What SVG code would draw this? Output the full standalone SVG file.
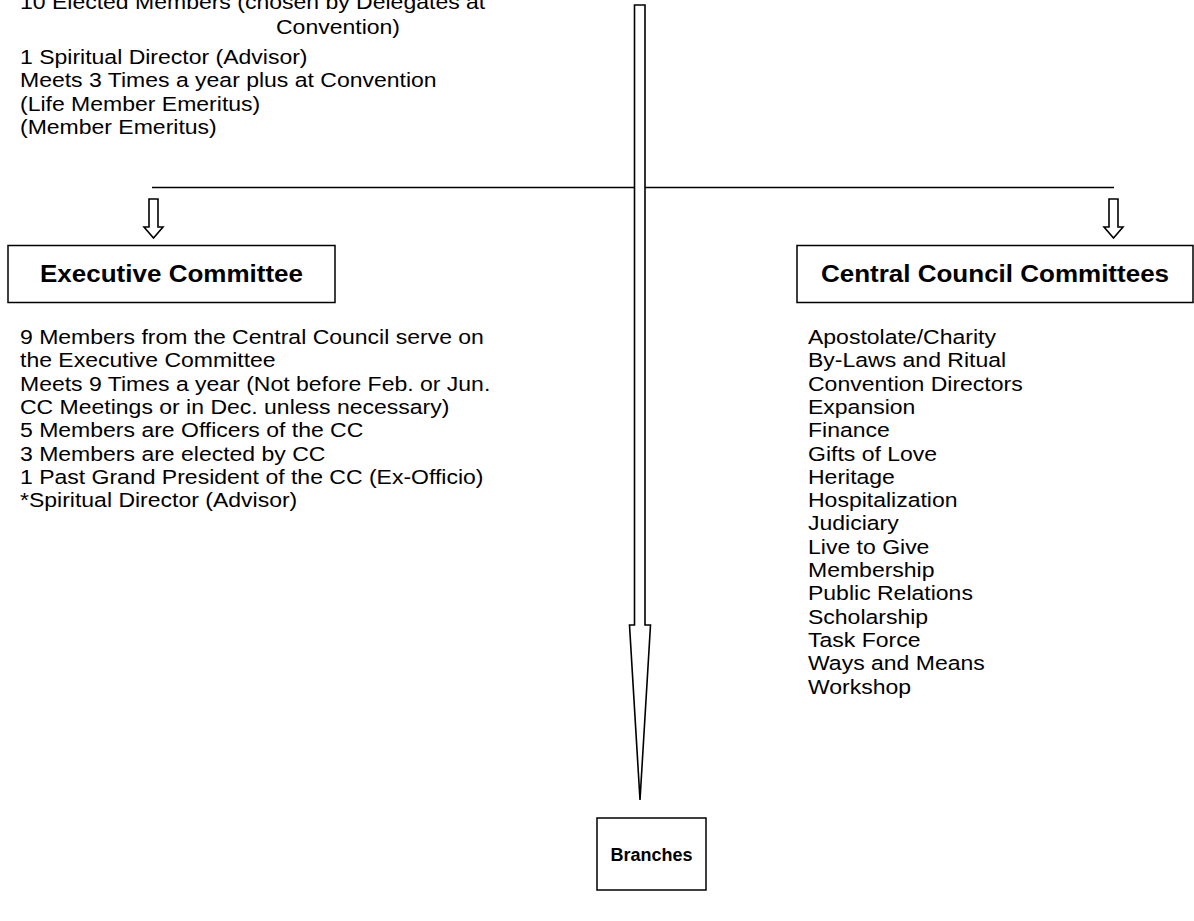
<svg xmlns="http://www.w3.org/2000/svg" width="1194" height="921" viewBox="0 0 1194 921">
<style>
text{font-family:"Liberation Sans",Arial,sans-serif;font-size:23px;fill:#000}
.t{font-weight:bold;font-size:26px}
.tb{font-weight:bold;font-size:18px}
.box{fill:#fff;stroke:#000;stroke-width:1.5}
.arr{fill:#fff;stroke:#000;stroke-width:1.6;stroke-linejoin:miter}
</style>
<rect width="1194" height="921" fill="#fff"/>
<g id="council-text">
<text transform="matrix(1 0 0 0.89 20 9)">10 Elected Members (chosen by Delegates at</text>
<text transform="matrix(1 0 0 0.89 276 34)">Convention)</text>
<text transform="matrix(1 0 0 0.89 20 64)">1 Spiritual Director (Advisor)</text>
<text transform="matrix(1 0 0 0.89 20 87.3)">Meets 3 Times a year plus at Convention</text>
<text transform="matrix(1 0 0 0.89 20 110.6)">(Life Member Emeritus)</text>
<text transform="matrix(1 0 0 0.89 20 134)">(Member Emeritus)</text>
</g>
<g id="connectors">
<line x1="152" y1="187.5" x2="1114" y2="187.5" stroke="#000" stroke-width="1.6"/>
<path class="arr" d="M149,199 H158 V227 H163 L153.5,238 L144,227 H149 Z"/>
<path class="arr" d="M1109,199 H1118 V227 H1123 L1113.5,238 L1104,227 H1109 Z"/>
<path class="arr" d="M634.5,5 H645 V625 H650.5 L640,800 L629.5,625 H634.5 Z"/>
</g>
<g id="executive-committee">
<rect class="box" x="8" y="245.5" width="327" height="57"/>
<text class="t" text-anchor="middle" transform="matrix(1 0 0 0.89 171.5 282)">Executive Committee</text>
<text transform="matrix(1 0 0 0.89 20 344)">9 Members from the Central Council serve on</text>
<text transform="matrix(1 0 0 0.89 20 367.3)">the Executive Committee</text>
<text transform="matrix(1 0 0 0.89 20 390.6)">Meets 9 Times a year (Not before Feb. or Jun.</text>
<text transform="matrix(1 0 0 0.89 20 413.9)">CC Meetings or in Dec. unless necessary)</text>
<text transform="matrix(1 0 0 0.89 20 437.2)">5 Members are Officers of the CC</text>
<text transform="matrix(1 0 0 0.89 20 460.5)">3 Members are elected by CC</text>
<text transform="matrix(1 0 0 0.89 20 483.8)">1 Past Grand President of the CC (Ex-Officio)</text>
<text transform="matrix(1 0 0 0.89 20 507.1)">*Spiritual Director (Advisor)</text>
</g>
<g id="central-council-committees">
<rect class="box" x="797" y="245.5" width="396" height="57"/>
<text class="t" text-anchor="middle" transform="matrix(1 0 0 0.89 995 282)">Central Council Committees</text>
<text transform="matrix(1 0 0 0.89 808 344)">Apostolate/Charity</text>
<text transform="matrix(1 0 0 0.89 808 367.3)">By-Laws and Ritual</text>
<text transform="matrix(1 0 0 0.89 808 390.6)">Convention Directors</text>
<text transform="matrix(1 0 0 0.89 808 413.9)">Expansion</text>
<text transform="matrix(1 0 0 0.89 808 437.2)">Finance</text>
<text transform="matrix(1 0 0 0.89 808 460.5)">Gifts of Love</text>
<text transform="matrix(1 0 0 0.89 808 483.8)">Heritage</text>
<text transform="matrix(1 0 0 0.89 808 507.1)">Hospitalization</text>
<text transform="matrix(1 0 0 0.89 808 530.4)">Judiciary</text>
<text transform="matrix(1 0 0 0.89 808 553.7)">Live to Give</text>
<text transform="matrix(1 0 0 0.89 808 577)">Membership</text>
<text transform="matrix(1 0 0 0.89 808 600.3)">Public Relations</text>
<text transform="matrix(1 0 0 0.89 808 623.6)">Scholarship</text>
<text transform="matrix(1 0 0 0.89 808 646.9)">Task Force</text>
<text transform="matrix(1 0 0 0.89 808 670.2)">Ways and Means</text>
<text transform="matrix(1 0 0 0.89 808 693.5)">Workshop</text>
</g>
<g id="branches">
<rect class="box" x="597" y="818" width="109" height="72"/>
<text class="tb" x="651.5" y="861" text-anchor="middle">Branches</text>
</g>
</svg>
